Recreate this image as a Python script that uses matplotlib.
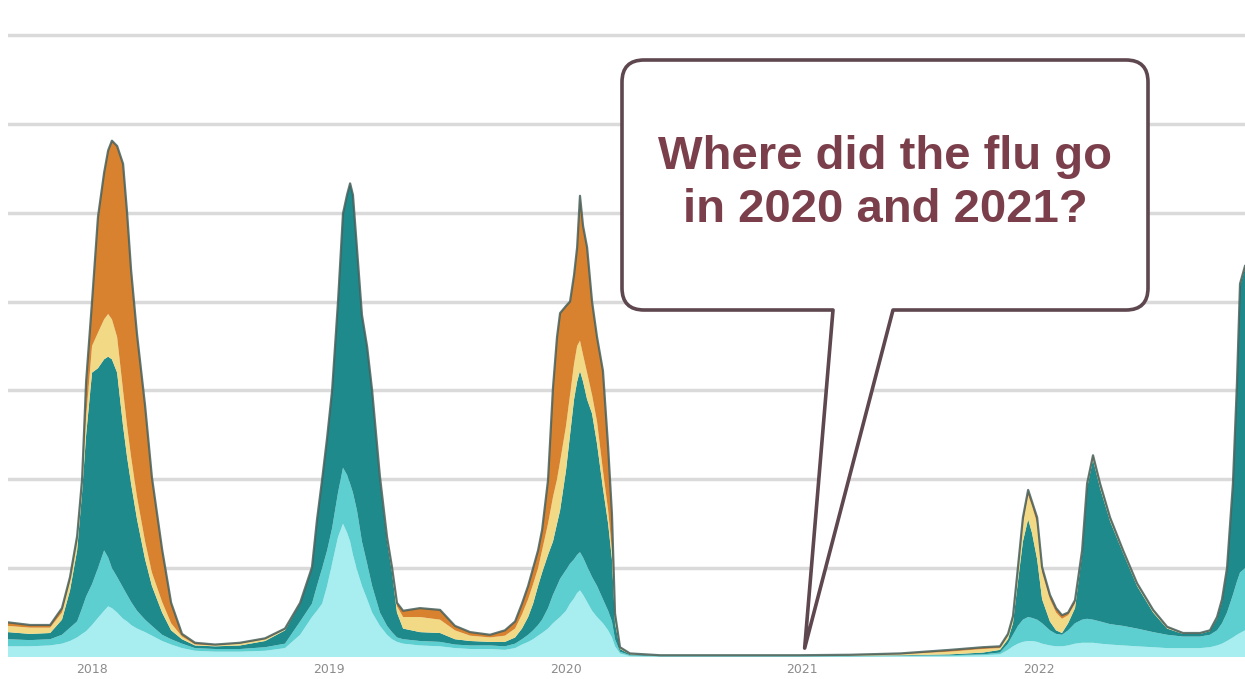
import numpy as np
import matplotlib
matplotlib.use("Agg")
import matplotlib.pyplot as plt
from matplotlib.path import Path
from matplotlib.patches import PathPatch
from matplotlib.transforms import Affine2D

# ---------------- data (weekly flu positives, stacked) ----------------
# x positions in decimal years
dates = [2017.645, 2017.738, 2017.823, 2017.873, 2017.907, 2017.937, 2017.958, 2017.975, 2018.000, 2018.025,
         2018.051, 2018.068, 2018.084, 2018.106, 2018.131, 2018.148, 2018.165, 2018.190, 2018.224, 2018.253,
         2018.296, 2018.334, 2018.380, 2018.435, 2018.520, 2018.625, 2018.731, 2018.815, 2018.879, 2018.929,
         2018.950, 2018.972, 2018.993, 2019.014, 2019.039, 2019.060, 2019.077, 2019.090, 2019.102, 2019.119,
         2019.140, 2019.162, 2019.183, 2019.216, 2019.246, 2019.267, 2019.288, 2019.314, 2019.385, 2019.470,
         2019.533, 2019.597, 2019.681, 2019.744, 2019.787, 2019.816, 2019.842, 2019.863, 2019.884, 2019.901,
         2019.926, 2019.947, 2019.964, 2019.977, 2020.002, 2020.019, 2020.036, 2020.049, 2020.061, 2020.074,
         2020.091, 2020.112, 2020.133, 2020.158, 2020.180, 2020.196, 2020.209, 2020.230, 2020.272, 2020.399,
         2020.568, 2020.779, 2020.991, 2021.202, 2021.413, 2021.624, 2021.763, 2021.835, 2021.869, 2021.890,
         2021.911, 2021.932, 2021.954, 2021.970, 2021.992, 2022.013, 2022.046, 2022.072, 2022.097, 2022.123,
         2022.152, 2022.182, 2022.203, 2022.228, 2022.258, 2022.300, 2022.355, 2022.414, 2022.482, 2022.541,
         2022.608, 2022.680, 2022.722, 2022.752, 2022.773, 2022.794, 2022.819, 2022.836, 2022.849, 2022.870]

# cumulative upper edge of each stacked layer (thousands of specimens)
level_light_cyan = [0.12, 0.12, 0.13, 0.15, 0.18, 0.22, 0.26, 0.29, 0.36, 0.44,
                    0.52, 0.57, 0.55, 0.50, 0.43, 0.40, 0.36, 0.32, 0.28, 0.24,
                    0.18, 0.14, 0.10, 0.07, 0.06, 0.06, 0.07, 0.10, 0.25, 0.45,
                    0.52, 0.60, 0.80, 1.05, 1.35, 1.50, 1.40, 1.30, 1.15, 0.98,
                    0.80, 0.65, 0.50, 0.35, 0.25, 0.20, 0.17, 0.15, 0.13, 0.12,
                    0.10, 0.09, 0.09, 0.08, 0.10, 0.14, 0.17, 0.20, 0.24, 0.27,
                    0.32, 0.38, 0.42, 0.45, 0.52, 0.60, 0.66, 0.72, 0.75, 0.70,
                    0.62, 0.52, 0.45, 0.38, 0.30, 0.22, 0.12, 0.04, 0.01, 0.005,
                    0.005, 0.005, 0.005, 0.005, 0.01, 0.01, 0.02, 0.03, 0.08, 0.12,
                    0.15, 0.17, 0.18, 0.18, 0.17, 0.15, 0.13, 0.12, 0.12, 0.13,
                    0.15, 0.16, 0.16, 0.16, 0.15, 0.14, 0.13, 0.12, 0.11, 0.10,
                    0.10, 0.10, 0.11, 0.13, 0.15, 0.18, 0.22, 0.25, 0.27, 0.30]
level_mid_cyan = [0.20, 0.19, 0.20, 0.25, 0.33, 0.40, 0.55, 0.68, 0.82, 1.00,
                  1.20, 1.12, 1.00, 0.90, 0.78, 0.70, 0.62, 0.52, 0.42, 0.35,
                  0.25, 0.20, 0.15, 0.10, 0.09, 0.09, 0.11, 0.15, 0.40, 0.60,
                  0.80, 1.00, 1.20, 1.45, 1.85, 2.13, 2.05, 1.95, 1.85, 1.65,
                  1.30, 1.05, 0.80, 0.50, 0.35, 0.28, 0.22, 0.20, 0.18, 0.17,
                  0.14, 0.13, 0.13, 0.12, 0.15, 0.20, 0.25, 0.30, 0.36, 0.42,
                  0.55, 0.70, 0.80, 0.88, 0.98, 1.05, 1.10, 1.15, 1.18, 1.12,
                  1.02, 0.90, 0.80, 0.65, 0.52, 0.40, 0.20, 0.06, 0.02, 0.01,
                  0.01, 0.01, 0.01, 0.01, 0.015, 0.02, 0.03, 0.05, 0.15, 0.25,
                  0.35, 0.42, 0.45, 0.44, 0.42, 0.38, 0.30, 0.26, 0.25, 0.30,
                  0.38, 0.42, 0.43, 0.42, 0.40, 0.37, 0.35, 0.32, 0.28, 0.25,
                  0.23, 0.23, 0.25, 0.30, 0.38, 0.50, 0.70, 0.85, 0.95, 1.00]
level_teal = [0.28, 0.26, 0.27, 0.42, 0.75, 1.20, 1.85, 2.50, 3.20, 3.25,
              3.35, 3.38, 3.35, 3.20, 2.60, 2.25, 1.95, 1.55, 1.10, 0.80,
              0.50, 0.30, 0.20, 0.13, 0.12, 0.13, 0.18, 0.30, 0.60, 1.00,
              1.53, 2.00, 2.46, 3.00, 4.00, 4.99, 5.20, 5.33, 5.20, 4.60,
              3.85, 3.49, 3.00, 2.00, 1.30, 0.95, 0.50, 0.32, 0.28, 0.27,
              0.20, 0.18, 0.17, 0.17, 0.22, 0.32, 0.45, 0.60, 0.80, 0.95,
              1.15, 1.30, 1.50, 1.65, 2.10, 2.50, 2.90, 3.10, 3.22, 3.10,
              2.90, 2.74, 2.40, 1.90, 1.50, 1.10, 0.38, 0.09, 0.03, 0.015,
              0.015, 0.015, 0.015, 0.015, 0.02, 0.03, 0.05, 0.08, 0.20, 0.38,
              0.85, 1.30, 1.55, 1.40, 1.10, 0.65, 0.40, 0.30, 0.27, 0.38,
              0.55, 1.15, 1.90, 2.22, 1.90, 1.53, 1.17, 0.80, 0.50, 0.32,
              0.26, 0.26, 0.29, 0.43, 0.62, 0.97, 1.92, 3.05, 4.17, 4.37]
level_yellow = [0.35, 0.33, 0.33, 0.50, 0.85, 1.30, 1.95, 2.70, 3.50, 3.65,
                3.80, 3.86, 3.80, 3.60, 3.00, 2.60, 2.25, 1.80, 1.30, 0.95,
                0.62, 0.38, 0.23, 0.14, 0.13, 0.15, 0.20, 0.31, 0.60, 1.00,
                1.53, 2.00, 2.46, 3.00, 4.00, 4.99, 5.20, 5.33, 5.20, 4.60,
                3.85, 3.49, 3.00, 2.02, 1.33, 0.99, 0.57, 0.45, 0.45, 0.42,
                0.30, 0.24, 0.22, 0.24, 0.32, 0.48, 0.65, 0.82, 1.00, 1.20,
                1.50, 1.80, 2.00, 2.20, 2.60, 2.95, 3.30, 3.50, 3.56, 3.40,
                3.20, 2.95, 2.65, 2.10, 1.65, 1.20, 0.43, 0.10, 0.035, 0.02,
                0.02, 0.02, 0.02, 0.02, 0.03, 0.06, 0.09, 0.10, 0.24, 0.43,
                0.95, 1.50, 1.82, 1.70, 1.50, 0.95, 0.65, 0.50, 0.43, 0.47,
                0.60, 1.18, 1.93, 2.25, 1.93, 1.55, 1.19, 0.82, 0.52, 0.33,
                0.265, 0.265, 0.295, 0.44, 0.63, 0.98, 1.93, 3.06, 4.18, 4.38]
level_total = [0.39, 0.36, 0.36, 0.55, 0.90, 1.36, 2.00, 3.10, 4.00, 4.95,
               5.45, 5.70, 5.81, 5.75, 5.55, 5.00, 4.35, 3.63, 2.83, 2.02,
               1.21, 0.61, 0.26, 0.16, 0.14, 0.16, 0.21, 0.32, 0.61, 1.01,
               1.54, 2.00, 2.47, 3.00, 4.00, 4.99, 5.20, 5.33, 5.20, 4.60,
               3.85, 3.49, 3.00, 2.03, 1.35, 1.01, 0.61, 0.52, 0.55, 0.53,
               0.35, 0.28, 0.25, 0.30, 0.40, 0.60, 0.80, 1.00, 1.20, 1.43,
               1.99, 3.03, 3.60, 3.87, 3.95, 4.00, 4.30, 4.61, 5.19, 4.85,
               4.61, 4.00, 3.60, 3.22, 2.36, 1.61, 0.49, 0.11, 0.04, 0.02,
               0.02, 0.02, 0.02, 0.025, 0.04, 0.08, 0.11, 0.12, 0.26, 0.46,
               1.01, 1.57, 1.88, 1.75, 1.57, 1.01, 0.70, 0.55, 0.47, 0.50,
               0.64, 1.20, 1.95, 2.27, 1.95, 1.57, 1.20, 0.83, 0.53, 0.34,
               0.27, 0.27, 0.30, 0.45, 0.65, 1.00, 1.95, 3.08, 4.20, 4.40]

year_ticks = [2018, 2019, 2020, 2021, 2022]
year_labels = ["2018", "2019", "2020", "2021", "2022"]
callout_lines = ["Where did the flu go", "in 2020 and 2021?"]
callout_target = (2021.01, 0.1)   # where the speech-bubble pointer lands

layer_colors = ["#a8eef0", "#5dcfd0", "#1f8a8c", "#f1d985", "#d8822f"]

# ---------------- figure ----------------
W, H, DPI = 1245, 679, 100
fig = plt.figure(figsize=(W / DPI, H / DPI), dpi=DPI)
fig.patch.set_facecolor("white")

ax = fig.add_axes([8 / W, 22 / H, (W - 8) / W, (7.3 * 88.86) / H])
ax.set_facecolor("white")

levels = np.vstack([np.zeros(len(dates)), level_light_cyan, level_mid_cyan,
                    level_teal, level_yellow, level_total])
thickness = np.clip(np.diff(levels, axis=0), 0, None)
ax.stackplot(dates, thickness, colors=layer_colors, linewidth=0, zorder=2)
ax.plot(dates, level_total, color="#46605c", lw=1.6, alpha=0.85, zorder=3)

ax.set_xlim(2017.645, 2022.870)
ax.set_ylim(0, 7.3)
ax.set_yticks(range(0, 8))
ax.yaxis.grid(True, color="#dadada", lw=2.5)
ax.set_axisbelow(True)
ax.tick_params(axis="y", length=0, labelleft=False)
ax.set_xticks(year_ticks)
ax.set_xticklabels(year_labels)
ax.tick_params(axis="x", length=0, pad=4, labelsize=9, labelcolor="#8c8c8c")
for s in ax.spines.values():
    s.set_visible(False)

# ---------------- speech bubble (layout in image pixels) ----------------
px = Affine2D().scale(1 / DPI, -1 / DPI).translate(0, H / DPI) + fig.dpi_scale_trans
tip = px.inverted().transform(ax.transData.transform(callout_target))

L, R, T, B, r = 622, 1148, 60, 310, 22
bl, br = 833, 893
verts = [(bl, B), (tip[0], tip[1]), (br, B), (R - r, B), (R, B), (R, B - r),
         (R, T + r), (R, T), (R - r, T), (L + r, T), (L, T), (L, T + r),
         (L, B - r), (L, B), (L + r, B), (bl, B), (bl, B)]
codes = [Path.MOVETO, Path.LINETO, Path.LINETO, Path.LINETO, Path.CURVE3, Path.CURVE3,
         Path.LINETO, Path.CURVE3, Path.CURVE3, Path.LINETO, Path.CURVE3, Path.CURVE3,
         Path.LINETO, Path.CURVE3, Path.CURVE3, Path.LINETO, Path.CLOSEPOLY]
bubble = PathPatch(Path(verts, codes), facecolor="white", edgecolor="#5e474f",
                   lw=2.6, joinstyle="round", transform=px, zorder=10, clip_on=False)
fig.add_artist(bubble)

for line, yy in zip(callout_lines, [157, 210]):
    fig.text(885, yy, line, transform=px, ha="center", va="center",
             fontsize=34, fontweight="bold", color="#7a3f4a",
             family=["Liberation Sans", "DejaVu Sans"], zorder=11)

fig.savefig("out.png", dpi=DPI)
